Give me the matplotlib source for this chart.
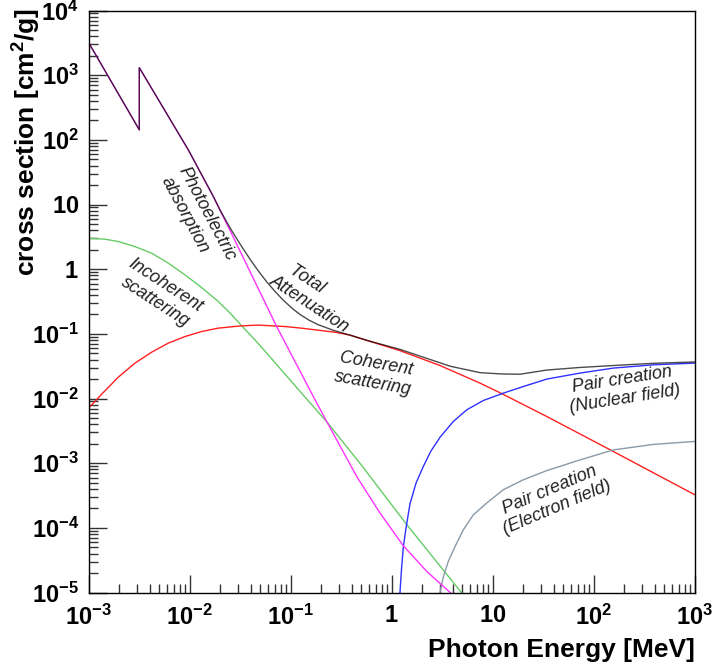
import numpy as np
import matplotlib
matplotlib.use("Agg")
import matplotlib.pyplot as plt
from matplotlib.ticker import FixedLocator, FixedFormatter, NullFormatter

plt.rcParams['font.family'] = ['Liberation Sans', 'DejaVu Sans']
plt.rcParams['mathtext.fontset'] = 'custom'
plt.rcParams['mathtext.rm'] = 'Liberation Sans'
plt.rcParams['mathtext.bf'] = 'Liberation Sans:bold'
plt.rcParams['mathtext.it'] = 'Liberation Sans:italic'

# ---- data (log10 of energy [MeV], log10 of cross section [cm^2/g]) ----
photo_logE = [-3.0, -2.499, -2.499, -2.014, -1.766, -1.601, -1.139, -0.759, -0.644, -0.347, -0.116,
              0.115, 0.347, 0.577, 0.70]
photo_logS = [3.502, 2.153, 3.116, 1.844, 1.122, 0.60, -0.887, -2.02, -2.355, -3.205, -3.771,
              -4.277, -4.674, -4.998, -5.15]

incoh_logE = [-3.0, -2.839, -2.707, -2.542, -2.376, -2.212, -2.047, -1.881, -1.717, -1.60, -1.485,
              -1.35, -1.22, -0.891, -0.638, -0.3, 0.149, 0.69, 0.80]
incoh_logS = [0.479, 0.464, 0.427, 0.349, 0.247, 0.093, -0.088, -0.285, -0.50, -0.68, -0.876,
              -1.10, -1.33, -1.92, -2.37, -3.03, -3.95, -5.0, -5.2]

coh_logE = [-3.0, -2.871, -2.707, -2.542, -2.376, -2.212, -2.047, -1.881, -1.717, -1.485,
            -1.32, -1.056, -0.907, -0.561, -0.413, 0.082, 0.478, 0.874, 1.08, 1.535, 2.194, 3.0]
coh_logS = [-2.148, -1.932, -1.670, -1.453, -1.283, -1.144, -1.042, -0.964, -0.912, -0.876,
            -0.865, -0.887, -0.91, -0.975, -1.02, -1.26, -1.49, -1.762, -1.917, -2.278, -2.819, -3.488]

pairn_logE = [0.07, 0.082, 0.098, 0.115, 0.142, 0.181, 0.241, 0.313, 0.386, 0.478, 0.610, 0.743,
              0.907, 1.105, 1.303, 1.535, 1.864, 2.194, 2.59, 3.0]
pairn_logS = [-5.3, -5.0, -4.62, -4.3, -4.0, -3.63, -3.308, -3.051, -2.819, -2.6, -2.355, -2.175,
              -2.031, -1.917, -1.815, -1.700, -1.607, -1.530, -1.479, -1.453]

paire_logE = [0.46, 0.478, 0.511, 0.56, 0.627, 0.709, 0.808, 0.94, 1.105, 1.303, 1.535, 1.864,
              2.194, 2.59, 3.0]
paire_logS = [-5.25, -5.0, -4.76, -4.52, -4.29, -4.03, -3.80, -3.617, -3.411, -3.257, -3.115,
              -2.95, -2.795, -2.71, -2.664]

total_logE = [-3.0, -2.499, -2.499, -2.014, -1.766, -1.70, -1.601, -1.502, -1.403, -1.324, -1.238,
              -1.155, -1.073, -0.990, -0.908, -0.817, -0.726, -0.578, -0.413, -0.248, 0.082,
              0.577, 0.874, 1.08, 1.27, 1.535, 1.864, 2.194, 2.6, 3.0]
total_logS = [3.502, 2.155, 3.116, 1.846, 1.125, 0.915, 0.64, 0.39, 0.155, -0.02, -0.195,
              -0.345, -0.48, -0.60, -0.70, -0.79, -0.86, -0.945, -1.02, -1.10, -1.24,
              -1.5, -1.6, -1.62, -1.625, -1.56, -1.52, -1.49, -1.455, -1.435]

x_ticks = [1e-3, 1e-2, 1e-1, 1, 10, 1e2, 1e3]
x_labels = [r'$\mathbf{10^{-3}}$', r'$\mathbf{10^{-2}}$', r'$\mathbf{10^{-1}}$', r'$\mathbf{1}$',
            r'$\mathbf{10}$', r'$\mathbf{10^{2}}$', r'$\mathbf{10^{3}}$']
y_ticks = [1e-5, 1e-4, 1e-3, 1e-2, 1e-1, 1, 10, 1e2, 1e3, 1e4]
y_labels = [r'$\mathbf{10^{-5}}$', r'$\mathbf{10^{-4}}$', r'$\mathbf{10^{-3}}$', r'$\mathbf{10^{-2}}$',
            r'$\mathbf{10^{-1}}$', r'$\mathbf{1}$', r'$\mathbf{10}$', r'$\mathbf{10^{2}}$',
            r'$\mathbf{10^{3}}$', r'$\mathbf{10^{4}}$']

labels = [
    ("Photoelectric\nabsorption", 0.0120, 6.0, -62, 'left'),
    ("  Total\nAttenuation", 0.174, 0.386, -33, 'left'),
    ("Incoherent\nscattering", 0.0051, 0.42, -33, 'center'),
    ("Coherent\nscattering", 0.68, 0.0245, -10, 'center'),
    ("Pair creation\n(Nuclear field)", 196, 0.0141, 9, 'center'),
    ("Pair creation\n(Electron field)", 40, 2.8e-4, 23, 'center'),
]

def P(a):
    return 10.0 ** np.asarray(a)

fig = plt.figure(figsize=(7.14, 6.70), dpi=100)
ax = fig.add_axes([88.7 / 714, 1 - 592.5 / 670, (694.7 - 88.7) / 714, (592.5 - 10.5) / 670])
ax.set_xscale('log')
ax.set_yscale('log')

lw = 1.0
ax.plot(P(incoh_logE), P(incoh_logS), color='#66cc66', lw=lw)
ax.plot(P(coh_logE), P(coh_logS), color='#ff2020', lw=lw)
ax.plot(P(pairn_logE), P(pairn_logS), color='#3030ff', lw=lw)
ax.plot(P(paire_logE), P(paire_logS), color='#8a9aa8', lw=lw)
ax.plot(P(photo_logE), P(photo_logS), color='#ff33ff', lw=lw)
ax.plot(P(total_logE), P(total_logS), color='black', lw=lw, alpha=0.7)

ax.set_xlim(1e-3, 1e3)
ax.set_ylim(1e-5, 1e4)

ax.xaxis.set_major_locator(FixedLocator(x_ticks))
ax.xaxis.set_major_formatter(FixedFormatter(x_labels))
ax.yaxis.set_major_locator(FixedLocator(y_ticks))
ax.yaxis.set_major_formatter(FixedFormatter(y_labels))
ax.xaxis.set_minor_formatter(NullFormatter())
ax.yaxis.set_minor_formatter(NullFormatter())
ax.xaxis.set_minor_locator(FixedLocator([m * 10.0 ** d for d in range(-3, 3) for m in range(2, 10)]))
ax.yaxis.set_minor_locator(FixedLocator([m * 10.0 ** d for d in range(-5, 4) for m in range(2, 10)]))

ax.tick_params(which='both', direction='in', top=False, right=False, color='#333333')
ax.tick_params(which='major', length=13, width=1.0, labelsize=17, pad=7)
ax.tick_params(which='minor', length=6.5, width=1.0)
ax.tick_params(axis='x', which='major', pad=9)

for s in ax.spines.values():
    s.set_linewidth(1.0)

for txt, x, y, rot, malign in labels:
    ax.text(x, y, txt, rotation=rot, ha='center', va='center', fontsize=13,
            style='italic', color='#222222', rotation_mode='anchor', linespacing=1.2,
            multialignment=malign)

fig.text(695 / 714, 1 - 650 / 670, 'Photon Energy [MeV]', ha='right', va='center',
         fontsize=19, fontweight='bold')
fig.text(27 / 714, 1 - 8 / 670, r'cross section [cm$^{\mathbf{2}}$/g]', ha='center', va='top',
         rotation=90, fontsize=19, fontweight='bold')

fig.savefig('out.png', dpi=100)
